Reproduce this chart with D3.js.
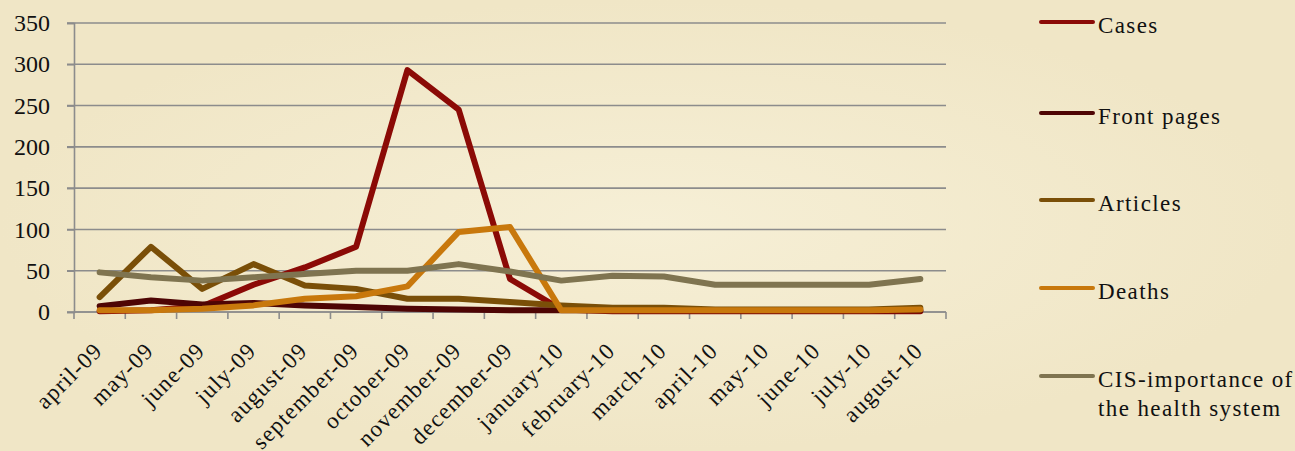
<!DOCTYPE html>
<html>
<head>
<meta charset="utf-8">
<script src="https://cdnjs.cloudflare.com/ajax/libs/d3/7.8.5/d3.min.js"></script>
<style>
  body { margin: 0; background: #f3ebcd; }
  svg { display: block; }
  text { font-family: "Liberation Serif", "DejaVu Serif", serif; fill: #111; }
</style>
</head>
<body>
<div id="chart"></div>
<script>
// chart size
var svgWidth = 1295;
var svgHeight = 451;

// plot area
var margin = { top: 23, left: 74 };
var width = 872;
var height = 289;

// data
var months = ["april-09", "may-09", "june-09", "july-09", "august-09", "september-09",
  "october-09", "november-09", "december-09", "january-10", "february-10", "march-10",
  "april-10", "may-10", "june-10", "july-10", "august-10"];

var cases = [1, 2, 7, 33, 54, 79, 293, 245, 40, 3, 1, 1, 1, 1, 1, 1, 1];
var frontPages = [7, 14, 9, 11, 8, 6, 4, 3, 2, 2, 2, 2, 2, 2, 2, 2, 2];
var articles = [18, 79, 28, 58, 32, 28, 16, 16, 12, 8, 5, 5, 3, 3, 3, 3, 5];
var deaths = [2, 2, 4, 8, 16, 19, 31, 97, 103, 2, 2, 2, 2, 2, 2, 2, 3];
var cis = [48, 42, 38, 42, 46, 50, 50, 58, 49, 38, 44, 43, 33, 33, 33, 33, 40];

var yTicks = [0, 50, 100, 150, 200, 250, 300, 350];

var seriesNames = ["Cases", "Front pages", "Articles", "Deaths", "CIS-importance of the health system"];
var seriesColors = ["#8b0a06", "#4e0504", "#7a4f08", "#c8780c", "#7f7450"];
var seriesData = [cases, frontPages, articles, deaths, cis];

var svg = d3.select("#chart")
  .append("svg")
  .attr("width", svgWidth)
  .attr("height", svgHeight);

// parchment-ish background
var defs = svg.append("defs");
var grad = defs.append("radialGradient").attr("id", "bg");
grad.append("stop").attr("offset", "0%").attr("stop-color", "#f6efd6");
grad.append("stop").attr("offset", "100%").attr("stop-color", "#f0e6c6");
svg.append("rect")
  .attr("width", svgWidth)
  .attr("height", svgHeight)
  .attr("fill", "url(#bg)");

var chartGroup = svg.append("g")
  .attr("transform", `translate(${margin.left}, ${margin.top})`);

// scales
var xScale = d3.scaleBand()
  .domain(months)
  .range([0, width]);

var yScale = d3.scaleLinear()
  .domain([0, 350])
  .range([height, 0]);

// gridlines
chartGroup.append("g")
  .selectAll("line")
  .data(yTicks)
  .enter()
  .append("line")
  .attr("x1", -7)
  .attr("x2", width)
  .attr("y1", d => yScale(d))
  .attr("y2", d => yScale(d))
  .attr("stroke", "#8c8c8c")
  .attr("stroke-width", 1.6);

// y axis
var leftAxis = d3.axisLeft(yScale).tickValues(yTicks).tickSize(7).tickPadding(17);
var yAxis = chartGroup.append("g").call(leftAxis);
yAxis.selectAll("path, line").attr("stroke", "#8c8c8c").attr("stroke-width", 1.6);
yAxis.selectAll("text")
  .style("font-size", "24px")
  .style("font-family", "'Liberation Serif', serif")
  .attr("x", -24)
  .attr("fill", "#111");

// x axis (ticks on band edges)
var xEdges = months.map(d => xScale(d)).concat([width]);
var xAxisG = chartGroup.append("g")
  .attr("transform", `translate(0, ${height})`);
xAxisG.append("line")
  .attr("x1", 0).attr("x2", width)
  .attr("stroke", "#8c8c8c").attr("stroke-width", 1.6);
xAxisG.selectAll(".tick")
  .data(xEdges)
  .enter()
  .append("line")
  .attr("x1", d => d).attr("x2", d => d)
  .attr("y1", 0).attr("y2", 7)
  .attr("stroke", "#8c8c8c").attr("stroke-width", 1.6);

xAxisG.selectAll(".xlabel")
  .data(months)
  .enter()
  .append("text")
  .attr("transform", d => `translate(${xScale(d) + xScale.bandwidth() / 2 + 4}, 40) rotate(-45)`)
  .attr("text-anchor", "end")
  .style("font-size", "23px")
  .style("letter-spacing", "1.2px")
  .text(d => d);

// lines
var line = d3.line()
  .x((d, i) => xScale(months[i]) + xScale.bandwidth() / 2)
  .y(d => yScale(d));

chartGroup.selectAll(".series")
  .data(seriesData)
  .enter()
  .append("path")
  .attr("d", d => line(d))
  .attr("fill", "none")
  .attr("stroke", (d, i) => seriesColors[i])
  .attr("stroke-width", 6)
  .attr("stroke-linejoin", "round")
  .attr("stroke-linecap", "round");

// legend
var legendY = [22, 113, 200, 288, 376];
var legend = svg.append("g");
seriesNames.forEach(function (name, i) {
  legend.append("line")
    .attr("x1", 1041).attr("x2", 1093)
    .attr("y1", legendY[i]).attr("y2", legendY[i])
    .attr("stroke", seriesColors[i])
    .attr("stroke-width", 4)
    .attr("stroke-linecap", "round");
  var t = legend.append("text")
    .attr("x", 1098)
    .attr("y", legendY[i] + 11)
    .style("font-size", "23px")
    .style("letter-spacing", "1.4px");
  if (i === 4) {
    t.append("tspan").text("CIS-importance of");
    t.append("tspan").attr("x", 1098).attr("dy", 29).text("the health system");
  } else {
    t.text(name);
  }
});
</script>
</body>
</html>
